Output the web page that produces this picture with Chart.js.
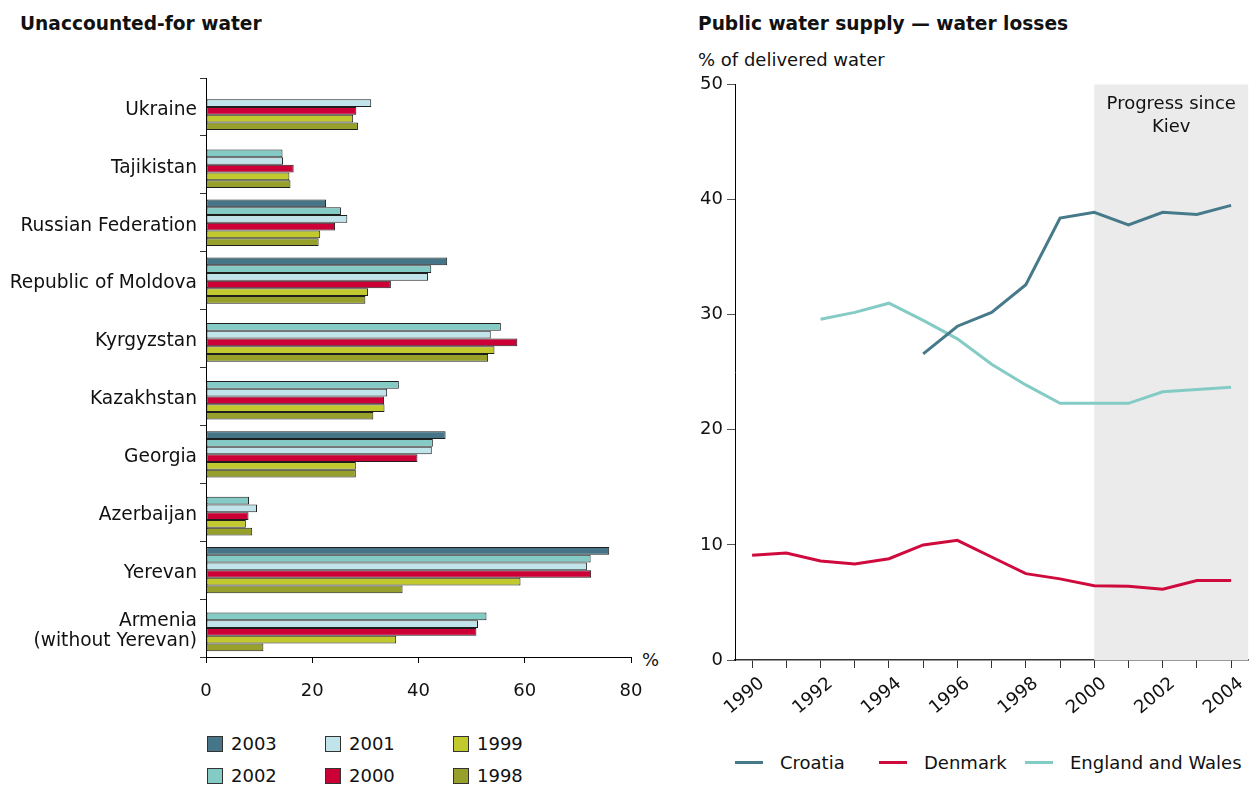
<!DOCTYPE html>
<html>
<head>
<meta charset="utf-8">
<script src="https://cdn.jsdelivr.net/npm/chart.js@4.4.0/dist/chart.umd.min.js"></script>
<style>
  body { margin: 0; background: #fff; font-family: "DejaVu Sans", Verdana, sans-serif; color: #111; }
  #wrap { position: relative; width: 1250px; height: 785px; overflow: hidden; }
  .title { position: absolute; font-weight: bold; font-size: 18.6px; white-space: nowrap; }
  .txt { position: absolute; font-size: 18px; white-space: nowrap; }
  #left { position: absolute; left: 0; top: 0; }
  #right { position: absolute; left: 690px; top: 0; }
  .lg { position: absolute; display: flex; align-items: center; font-size: 18px; white-space: nowrap; }
  .sq { width: 14px; height: 14px; border: 1px solid #333; margin-right: 8px; }
  .ln { width: 28px; height: 3px; margin-right: 17px; }
</style>
</head>
<body>
<div id="wrap">
  <div class="title" style="left:20px;top:13px">Unaccounted-for water</div>
  <div class="title" style="left:698px;top:13px">Public water supply — water losses</div>
  <div class="txt" style="left:698px;top:49px">% of delivered water</div>
  <div class="txt" style="left:642px;top:649px">%</div>
  <canvas id="left" width="690" height="720"></canvas>
  <canvas id="right" width="560" height="720"></canvas>
  <div id="legL"></div>
  <div id="legR"></div>
</div>
<script>
// left chart: unaccounted-for water, %
const countries = ['Ukraine', 'Tajikistan', 'Russian Federation', 'Republic of Moldova', 'Kyrgyzstan',
  'Kazakhstan', 'Georgia', 'Azerbaijan', 'Yerevan', ['Armenia', '(without Yerevan)']];
const years = ['2003', '2002', '2001', '2000', '1999', '1998'];
const v2003 = [null, null, 22.6, 45.4, null, null, 45.1, null, 75.9, null];
const v2002 = [null, 14.4, 25.4, 42.4, 55.5, 36.3, 42.7, 8.1, 72.4, 52.8];
const v2001 = [31.1, 14.5, 26.6, 41.8, 53.6, 34.1, 42.5, 9.6, 71.7, 51.2];
const v2000 = [28.3, 16.5, 24.3, 34.8, 58.6, 33.5, 39.8, 8.0, 72.5, 50.9];
const v1999 = [27.7, 15.7, 21.5, 30.5, 54.3, 33.6, 28.2, 7.5, 59.2, 35.8];
const v1998 = [28.6, 15.9, 21.2, 30.0, 53.1, 31.5, 28.2, 8.7, 37.0, 10.8];
const barColors = ['#467587', '#84cbc6', '#c0e4ea', '#cc0036', '#c2c92e', '#96a02b'];
const xTicksLeft = [0, 20, 40, 60, 80];

// right chart: water losses, % of delivered water
const lineYears = [1990, 1991, 1992, 1993, 1994, 1995, 1996, 1997, 1998, 1999, 2000, 2001, 2002, 2003, 2004];
const croatia = [null, null, null, null, null, 26.6, 29.0, 30.2, 32.6, 38.4, 38.9, 37.8, 38.9, 38.7, 39.5];
const denmark = [9.1, 9.3, 8.6, 8.35, 8.8, 10.0, 10.4, 8.95, 7.5, 7.05, 6.45, 6.4, 6.15, 6.9, 6.9];
const england = [null, null, 29.6, 30.2, 31.0, 29.5, 27.9, 25.7, 23.9, 22.3, 22.3, 22.3, 23.3, 23.5, 23.7];
const seriesNames = ['Croatia', 'Denmark', 'England and Wales'];
const lineColors = ['#467a8a', '#cf0a3c', '#84cbc6'];
const progressFrom = 2000;
const progressText = ['Progress since', 'Kiev'];

Chart.defaults.font.family = '"DejaVu Sans", Verdana, sans-serif';
Chart.defaults.font.size = 18;
Chart.defaults.color = '#111';

const barValues = [v2003, v2002, v2001, v2000, v1999, v1998];

new Chart(document.getElementById('left'), {
  type: 'bar',
  data: {
    labels: countries,
    datasets: years.map((y, i) => ({
      label: y,
      data: barValues[i],
      backgroundColor: barColors[i],
      borderColor: '#1e1e1e',
      borderWidth: 1,
      borderSkipped: false,
      categoryPercentage: 0.8,
      barPercentage: 1
    }))
  },
  options: {
    indexAxis: 'y',
    responsive: false,
    animation: false,
    layout: { padding: { top: 78, right: 59, left: 0, bottom: 0 } },
    plugins: { legend: { display: false }, tooltip: { enabled: false } },
    scales: {
      y: {
        grid: { display: true, drawOnChartArea: false, offset: true, tickLength: 6, color: '#333' },
        border: { color: '#000', width: 1 },
        ticks: { padding: 3, labelOffset: 3, font: { size: 18.6, lineHeight: 1.1 } },
        afterFit: s => { s.width = 206; }
      },
      x: {
        min: 0, max: 80,
        afterBuildTicks: s => { s.ticks = xTicksLeft.map(v => ({ value: v })); },
        grid: { drawOnChartArea: false, tickLength: 6, color: '#000' },
        border: { color: '#000', width: 1 },
        ticks: { padding: 18, font: { size: 18 } },
        afterFit: s => { s.height = 63; }
      }
    }
  }
});

const shade = {
  id: 'shade',
  beforeDatasetsDraw(chart) {
    const { ctx, chartArea: a, scales } = chart;
    const x0 = scales.x.getPixelForValue(progressFrom);
    ctx.save();
    ctx.fillStyle = '#ebebeb';
    ctx.fillRect(x0, a.top, a.right - x0, a.bottom - a.top);
    ctx.fillStyle = '#111';
    ctx.font = '18px "DejaVu Sans", Verdana, sans-serif';
    ctx.textAlign = 'center';
    ctx.textBaseline = 'middle';
    const cx = (x0 + a.right) / 2;
    progressText.forEach((t, i) => ctx.fillText(t, cx, a.top + 20 + i * 23));
    ctx.restore();
  }
};

const lineValues = [croatia, denmark, england];

new Chart(document.getElementById('right'), {
  type: 'line',
  data: {
    datasets: seriesNames.map((n, i) => ({
      label: n,
      data: lineYears.map((yr, j) => ({ x: yr, y: lineValues[i][j] })),
      borderColor: lineColors[i],
      backgroundColor: lineColors[i],
      borderWidth: 3,
      pointRadius: 0,
      tension: 0,
      spanGaps: false
    }))
  },
  options: {
    responsive: false,
    animation: false,
    layout: { padding: { top: 84.5, right: 0, left: 0, bottom: 0 } },
    plugins: { legend: { display: false }, tooltip: { enabled: false } },
    scales: {
      x: {
        type: 'linear',
        min: 1989.5, max: 2004.5,
        afterBuildTicks: s => { s.ticks = lineYears.map(v => ({ value: v })); },
        grid: { drawOnChartArea: false, tickLength: 8, color: '#333' },
        border: { color: '#333', width: 1.5 },
        ticks: {
          autoSkip: false, minRotation: 40, maxRotation: 40, padding: 5, labelOffset: 10,
          callback: v => (v % 2 === 0 ? String(v) : '')
        },
        afterFit: s => { s.height = 60; }
      },
      y: {
        min: 0, max: 50,
        ticks: { stepSize: 10, padding: 4 },
        grid: { drawOnChartArea: false, tickLength: 8, color: '#555' },
        border: { color: '#000', width: 1 },
        afterFit: s => { s.width = 45; }
      }
    }
  },
  plugins: [shade]
});

// legends
const legendOrder = ['2003', '2001', '1999', '2002', '2000', '1998'];
const colLeft = [207, 325, 453];
const rowTop = [733, 765];
const legL = document.getElementById('legL');
legendOrder.forEach((y, k) => {
  const d = document.createElement('div');
  d.className = 'lg';
  d.style.left = colLeft[k % 3] + 'px';
  d.style.top = rowTop[Math.floor(k / 3)] + 'px';
  d.innerHTML = '<div class="sq" style="background:' + barColors[years.indexOf(y)] + '"></div>' + y;
  legL.appendChild(d);
});
const legRLeft = [735, 879, 1025];
const legR = document.getElementById('legR');
seriesNames.forEach((n, i) => {
  const d = document.createElement('div');
  d.className = 'lg';
  d.style.left = legRLeft[i] + 'px';
  d.style.top = '752px';
  d.innerHTML = '<div class="ln" style="background:' + lineColors[i] + '"></div>' + n;
  legR.appendChild(d);
});
</script>
</body>
</html>
